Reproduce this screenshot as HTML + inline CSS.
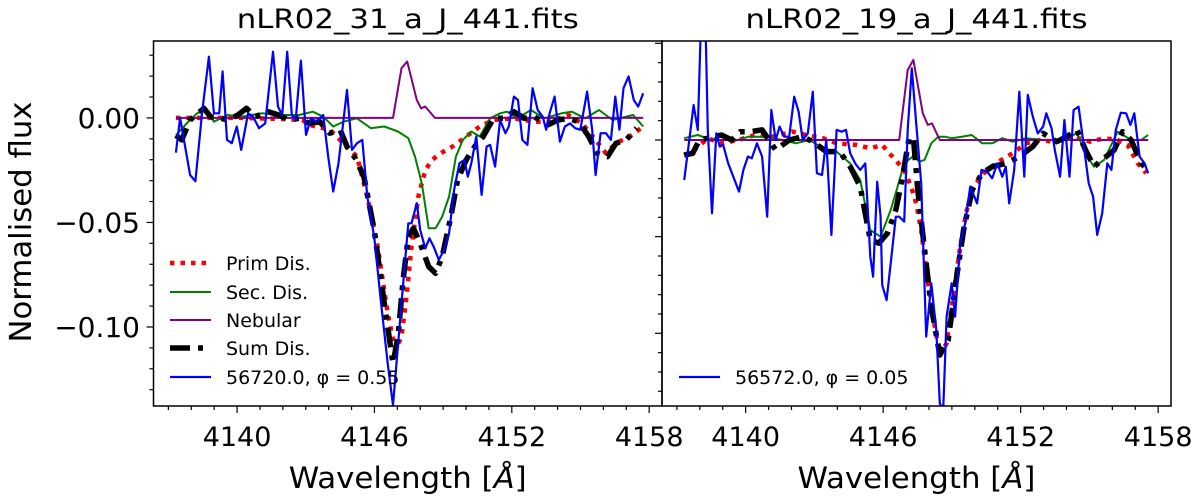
<!DOCTYPE html>
<html><head><meta charset="utf-8"><style>
html,body{margin:0;padding:0;background:#fff;}
svg{display:block;font-family:"DejaVu Sans","Liberation Sans",sans-serif;}
</style></head><body>
<svg id="chart" width="1200" height="500" viewBox="0 0 1200 500"></svg>
<script>
// ---------- data: left panel (nLR02_31_a_J_441) ----------
const xTicks = [4140, 4146, 4152, 4158];
const yTickLabels = ["0.00", "\u22120.05", "\u22120.10"];
const yTicks = [0, -0.05, -0.10];
const legendLabels = ["Prim Dis.", "Sec. Dis.", "Nebular", "Sum Dis.", "56720.0, \u03C6 = 0.55"];
const legendLabelRight = "56572.0, \u03C6 = 0.05";

const L_blueX = [4137.33,4137.51,4137.95,4138.18,4138.47,4138.77,4138.99,4139.22,4139.37,4139.56,4139.77,4139.99,4140.18,4140.48,4140.70,4140.96,4141.23,4141.57,4141.79,4141.97,4142.19,4142.39,4142.56,4142.79,4143.01,4143.23,4143.46,4143.76,4143.98,4144.20,4144.43,4144.80,4145.02,4145.24,4145.47,4145.69,4145.99,4146.29,4146.58,4146.81,4147.18,4147.48,4147.62,4147.85,4148.00,4148.22,4148.40,4148.59,4148.81,4149.04,4149.26,4149.48,4149.71,4149.93,4150.08,4150.23,4150.45,4150.68,4150.90,4151.05,4151.27,4151.49,4151.72,4151.87,4152.09,4152.27,4152.46,4152.68,4152.91,4153.13,4153.35,4153.50,4153.65,4153.87,4154.10,4154.32,4154.54,4154.77,4154.99,4155.29,4155.51,4155.66,4155.88,4156.11,4156.33,4156.52,4156.70,4156.88,4157.10,4157.33,4157.52,4157.74];
const L_blueY = [-0.0166,0.0000,-0.0273,-0.0303,0.0022,0.0293,0.0022,0.0022,0.0222,-0.0105,-0.0121,-0.0041,-0.0153,0.0022,0.0006,-0.0049,-0.0026,0.0317,0.0054,0.0014,0.0317,0.0014,-0.0010,0.0274,-0.0081,-0.0002,-0.0018,0.0014,-0.0185,-0.0352,-0.0217,0.0134,-0.0153,-0.0121,-0.0105,-0.0376,-0.0568,-0.0887,-0.1174,-0.1374,-0.0887,-0.0504,-0.0504,-0.0408,-0.0536,-0.0624,-0.0576,-0.0616,-0.0679,-0.0632,-0.0552,-0.0344,-0.0217,-0.0201,-0.0281,-0.0217,-0.0089,-0.0368,-0.0137,-0.0129,-0.0233,-0.0010,-0.0073,-0.0041,0.0102,0.0086,-0.0105,-0.0129,0.0142,0.0038,0.0006,-0.0057,0.0022,0.0102,-0.0113,-0.0041,-0.0026,-0.0049,-0.0057,0.0126,-0.0057,-0.0273,-0.0073,-0.0073,-0.0105,0.0102,-0.0057,0.0142,0.0198,0.0086,0.0054,0.0118];

const L_sumX = [4137.33,4137.58,4137.95,4138.55,4138.84,4139.29,4139.59,4140.03,4140.41,4140.78,4141.37,4141.82,4142.27,4142.71,4143.16,4143.61,4144.05,4144.50,4144.80,4145.17,4145.54,4145.99,4146.43,4146.81,4147.03,4147.25,4147.48,4147.70,4148.00,4148.37,4148.67,4148.96,4149.34,4149.63,4150.01,4150.38,4150.75,4151.20,4151.64,4152.09,4152.54,4152.98,4153.58,4154.02,4154.47,4154.92,4155.36,4155.73,4156.18,4156.55,4157.00,4157.45];
const L_sumY = [-0.0083,-0.0105,-0.0010,0.0046,0.0006,-0.0002,-0.0010,0.0014,0.0046,0.0006,0.0030,0.0014,-0.0010,-0.0002,-0.0026,-0.0018,-0.0073,-0.0057,-0.0137,-0.0193,-0.0281,-0.0536,-0.0887,-0.1174,-0.1046,-0.0775,-0.0568,-0.0528,-0.0600,-0.0711,-0.0743,-0.0663,-0.0472,-0.0297,-0.0201,-0.0137,-0.0089,-0.0002,-0.0002,0.0030,-0.0002,0.0006,-0.0033,-0.0010,-0.0002,-0.0018,-0.0089,-0.0169,-0.0185,-0.0121,-0.0105,-0.0049];

const L_primX = [4137.33,4138.70,4140.18,4141.97,4142.86,4143.16,4144.05,4144.65,4145.24,4145.69,4146.14,4146.58,4146.91,4147.18,4147.40,4147.62,4147.92,4148.22,4148.52,4148.89,4149.41,4150.01,4150.60,4151.20,4152.09,4152.98,4153.58,4154.47,4155.07,4155.66,4156.11,4156.55,4157.15,4157.74];
const L_primY = [0.0000,0.0000,0.0000,-0.0005,-0.0010,-0.0034,-0.0057,-0.0121,-0.0185,-0.0376,-0.0614,-0.0935,-0.1110,-0.1046,-0.0855,-0.0616,-0.0376,-0.0249,-0.0201,-0.0169,-0.0137,-0.0089,-0.0041,-0.0010,-0.0002,-0.0018,-0.0018,0.0014,-0.0026,-0.0105,-0.0169,-0.0121,-0.0089,-0.0041];

const L_secX = [4137.33,4137.80,4138.25,4138.70,4138.99,4139.59,4140.18,4141.08,4141.97,4142.71,4143.31,4143.76,4144.20,4144.65,4145.24,4145.84,4146.43,4147.03,4147.48,4147.77,4148.07,4148.37,4148.67,4148.96,4149.26,4149.56,4149.86,4150.23,4150.60,4151.05,4151.49,4151.79,4152.24,4152.83,4153.43,4154.17,4154.62,4155.21,4155.81,4156.40,4157.30,4157.74];
const L_secY = [-0.0083,-0.0026,0.0022,0.0038,-0.0018,0.0014,0.0006,0.0022,0.0014,0.0014,0.0030,0.0006,-0.0041,-0.0018,-0.0002,-0.0049,-0.0041,-0.0065,-0.0097,-0.0185,-0.0313,-0.0528,-0.0528,-0.0472,-0.0376,-0.0185,-0.0105,-0.0065,-0.0089,-0.0002,0.0022,0.0030,-0.0002,0.0038,-0.0002,0.0022,0.0030,-0.0002,0.0038,-0.0010,0.0014,-0.0041];

const L_nebX = [4137.33,4146.81,4147.18,4147.43,4147.85,4148.04,4148.22,4148.64,4157.74];
const L_nebY = [0,0,0.0238,0.0270,0.0086,0.0046,0.0054,0,0];

// ---------- data: right panel (nLR02_19_a_J_441) ----------
const R_blueX = [4137.32,4137.54,4137.73,4137.91,4138.06,4138.24,4138.35,4138.53,4138.72,4138.87,4139.02,4139.24,4139.46,4139.71,4139.90,4140.10,4140.27,4140.49,4140.72,4140.94,4141.12,4141.31,4141.48,4141.68,4141.90,4142.12,4142.31,4142.49,4142.71,4142.93,4143.11,4143.33,4143.52,4143.74,4143.97,4144.19,4144.38,4144.56,4144.78,4145.00,4145.22,4145.44,4145.56,4145.74,4145.89,4145.96,4146.15,4146.33,4146.55,4146.70,4146.92,4147.07,4147.25,4147.44,4147.66,4147.88,4148.10,4148.32,4148.47,4148.62,4148.77,4148.99,4149.14,4149.36,4149.58,4149.80,4150.10,4150.29,4150.54,4150.76,4150.98,4151.20,4151.35,4151.50,4151.72,4151.94,4152.16,4152.31,4152.53,4152.75,4152.98,4153.12,4153.35,4153.49,4153.72,4153.91,4154.13,4154.31,4154.53,4154.75,4154.97,4155.16,4155.34,4155.56,4155.78,4155.96,4156.15,4156.37,4156.60,4156.79,4156.96,4157.19,4157.41,4157.56];
const R_blueY = [-0.0207,0.0000,0.0181,0.0052,0.0650,0.0650,0.0052,-0.0379,0.0034,-0.0034,-0.0026,-0.0121,-0.0190,-0.0267,-0.0155,-0.0086,-0.0095,-0.0017,-0.0086,-0.0397,0.0155,0.0000,0.0069,0.0017,0.0017,0.0224,0.0147,0.0000,0.0034,0.0250,-0.0172,-0.0181,0.0000,-0.0491,0.0052,0.0043,0.0052,-0.0069,-0.0121,-0.0155,-0.0121,-0.0603,-0.0707,-0.0216,-0.0397,-0.0750,-0.0828,-0.0638,-0.0397,-0.0397,-0.0422,0.0052,0.0371,0.0086,-0.0224,-0.1017,-0.0741,-0.0983,-0.1362,-0.1397,-0.0914,-0.0741,-0.0914,-0.0534,-0.0431,-0.0241,-0.0328,-0.0155,-0.0164,-0.0198,-0.0121,-0.0190,-0.0138,-0.0328,-0.0155,0.0250,-0.0190,0.0233,0.0121,0.0034,0.0069,0.0138,0.0060,-0.0052,-0.0190,0.0103,-0.0190,0.0155,0.0172,-0.0026,-0.0224,-0.0293,-0.0491,-0.0379,-0.0121,-0.0155,0.0052,0.0141,0.0138,0.0078,0.0138,-0.0086,-0.0121,-0.0172];

const R_sumX = [4137.32,4137.69,4137.98,4138.35,4138.94,4139.39,4139.76,4140.20,4140.72,4141.31,4141.90,4142.49,4142.93,4143.52,4144.11,4144.56,4145.00,4145.44,4145.81,4146.18,4146.55,4146.85,4147.14,4147.33,4147.51,4147.81,4148.10,4148.47,4148.84,4149.21,4149.51,4149.88,4150.32,4150.76,4151.35,4151.94,4152.53,4152.98,4153.57,4154.01,4154.46,4154.83,4155.20,4155.64,4156.08,4156.45,4156.82,4157.26,4157.56];
const R_sumY = [-0.0078,-0.0069,0,0.0009,0.0026,0,0.0043,0.0043,0.0052,-0.0052,0,0.0017,-0.0009,-0.0060,-0.0060,-0.0138,-0.0241,-0.0517,-0.0534,-0.0483,-0.0362,-0.0190,0.0017,0,-0.0259,-0.0569,-0.0862,-0.1112,-0.1034,-0.0707,-0.0466,-0.0259,-0.0172,-0.0138,-0.0121,-0.0086,-0.0034,0.0034,-0.0009,0.0017,0.0052,-0.0052,-0.0138,-0.0095,-0.0052,0.0043,0,-0.0121,-0.0155];

const R_primX = [4137.32,4137.76,4138.35,4138.94,4139.68,4140.42,4141.16,4142.05,4142.64,4143.38,4143.97,4144.85,4145.44,4145.96,4146.40,4146.92,4147.22,4147.44,4147.66,4147.88,4148.18,4148.47,4148.77,4149.06,4149.36,4149.65,4149.95,4150.39,4150.91,4151.65,4152.24,4152.83,4153.42,4154.31,4155.04,4155.64,4156.23,4156.67,4157.11,4157.48];
const R_primY = [-0.0078,-0.0052,0.0009,-0.0017,0,0.0026,0.0017,0.0043,0.0026,0.0009,-0.0017,-0.0026,-0.0043,-0.0026,-0.0086,-0.0155,-0.0241,-0.0328,-0.0466,-0.0672,-0.0914,-0.1112,-0.1052,-0.0810,-0.0552,-0.0362,-0.0241,-0.0172,-0.0121,-0.0069,-0.0017,0,-0.0009,0.0017,-0.0009,0.0009,0,-0.0026,-0.0121,-0.0172];

const R_secX = [4137.32,4137.91,4138.50,4138.94,4139.39,4140.13,4140.86,4141.60,4142.19,4142.78,4143.38,4143.97,4144.56,4145.00,4145.44,4145.89,4146.33,4146.63,4146.92,4147.29,4147.59,4147.81,4148.10,4148.40,4148.69,4148.99,4149.43,4149.87,4150.32,4150.76,4151.20,4151.65,4152.24,4152.98,4153.72,4154.46,4154.90,4155.20,4155.64,4156.23,4156.82,4157.26,4157.56];
const R_secY = [0.0009,0.0026,0,0.0026,-0.0009,0.0017,0.0017,0,-0.0017,0,-0.0043,-0.0060,-0.0121,-0.0207,-0.0466,-0.0500,-0.0362,-0.0241,-0.0121,-0.0086,-0.0112,-0.0103,-0.0017,0.0017,0.0017,0.0009,0.0017,0.0026,-0.0017,-0.0017,0.0009,-0.0009,0.0009,0,0,0.0034,-0.0086,-0.0138,-0.0103,0.0043,0,0,0.0026];

const R_nebX = [4137.32,4146.70,4147.07,4147.32,4147.73,4147.95,4148.13,4148.47,4157.56];
const R_nebY = [0,0,0.0362,0.0414,0.0138,0.0078,0.0086,0,0];

// ---------- rendering ----------
const NS = "http://www.w3.org/2000/svg";
const svg = document.getElementById("chart");
function mk(tag, attrs, parent) {
  const e = document.createElementNS(NS, tag);
  for (const k in attrs) e.setAttribute(k, attrs[k]);
  (parent || svg).appendChild(e);
  return e;
}
const XMIN = 4136.35, XMAX = 4158.56, TOP = 41, BOT = 406;

function makePanel(opts) {
  const g = mk("g", {});
  
  
  const x = v => opts.x0 + (v - XMIN) / (XMAX - XMIN) * (opts.x1 - opts.x0);
  const y = v => TOP + (opts.ymax - v) / (opts.ymax - opts.ymin) * (BOT - TOP);
  const cid = "clip-" + opts.name;
  const defs = mk("defs", {}, g);
  const cp = mk("clipPath", {id: cid}, defs);
  mk("rect", {x: opts.x0, y: TOP, width: opts.x1 - opts.x0, height: BOT - TOP}, cp);
  const plot = mk("g", {"clip-path": "url(#" + cid + ")"}, g);
  
  
  function line(xs, ys, style, name) {
    const d = xs.map((v, i) => (i ? "L" : "M") + x(v).toFixed(1) + "," + y(ys[i]).toFixed(1)).join("");
    const p = mk("path", Object.assign({d: d, fill: "none", "stroke-linejoin": "round"}, style), plot);
    
    
  }
  line(opts.primX, opts.primY, {stroke: "#ff0000", "stroke-width": 4.5, "stroke-dasharray": "4.5,6"}, "prim-dis-line");
  line(opts.secX, opts.secY, {stroke: "#008000", "stroke-width": 2}, "sec-dis-line");
  line(opts.nebX, opts.nebY, {stroke: "#800080", "stroke-width": 2}, "nebular-line");
  line(opts.sumX, opts.sumY, {stroke: "#000000", "stroke-width": 5.5, "stroke-dasharray": "20,8,5,8"}, "sum-dis-line");
  line(opts.blueX, opts.blueY, {stroke: "#0000ff", "stroke-width": 2.2}, "observed-spectrum-line");
  const fr = mk("rect", {x: opts.x0, y: TOP, width: opts.x1 - opts.x0, height: BOT - TOP, fill: "none", stroke: "#000", "stroke-width": 1.5}, g);
  
  
  for (let v = 4137; v <= 4158; v++) {
    const major = xTicks.indexOf(v) >= 0;
    const t = mk("line", {x1: x(v), x2: x(v), y1: BOT, y2: BOT + (major ? 7 : 4), stroke: "#000", "stroke-width": 1.2}, g);
    
    
  }
  xTicks.forEach(v => {
    const t = mk("text", {x: x(v), y: 446, "text-anchor": "middle", "font-size": 27}, g);
    t.textContent = v;
    
    
  });
  for (let k = -13; k <= 5; k++) {
    const v = k / 100;
    if (v < opts.ymin || v > opts.ymax) continue;
    const major = k % 5 === 0;
    const t = mk("line", {x1: opts.x0, x2: opts.x0 - (major ? 7 : 4), y1: y(v), y2: y(v), stroke: "#000", "stroke-width": 1.2}, g);
    
    
  }
  if (opts.labels) {
    yTicks.forEach((v, i) => {
      const t = mk("text", {x: 140, y: y(v) + 10, "text-anchor": "end", "font-size": 28}, g);
      t.textContent = yTickLabels[i];
      
      
    });
  }
  const cx = (opts.x0 + opts.x1) / 2;
  const tt = mk("text", {x: cx, y: 28, "text-anchor": "middle", "font-size": 27, textLength: 342, lengthAdjust: "spacingAndGlyphs"}, g);
  tt.textContent = opts.title;
  
  
  const xl = mk("text", {x: cx, y: 488, "text-anchor": "middle", "font-size": 29, textLength: 238, lengthAdjust: "spacingAndGlyphs"}, g);
  xl.innerHTML = 'Wavelength [<tspan font-style="italic">Å</tspan>]';
  
  
  return {x, y, g};
}

const left = makePanel({name: "left-panel", x0: 153.5, x1: 662, ymax: 0.0368, ymin: -0.1378, labels: true,
  title: "nLR02_31_a_J_441.fits",
  primX: L_primX, primY: L_primY, secX: L_secX, secY: L_secY, nebX: L_nebX, nebY: L_nebY,
  sumX: L_sumX, sumY: L_sumY, blueX: L_blueX, blueY: L_blueY});
const right = makePanel({name: "right-panel", x0: 662, x1: 1171, ymax: 0.0512, ymin: -0.1376, labels: false,
  title: "nLR02_19_a_J_441.fits",
  primX: R_primX, primY: R_primY, secX: R_secX, secY: R_secY, nebX: R_nebX, nebY: R_nebY,
  sumX: R_sumX, sumY: R_sumY, blueX: R_blueX, blueY: R_blueY});

const yl = mk("text", {x: 0, y: 0, "text-anchor": "middle", "font-size": 30, textLength: 241, lengthAdjust: "spacingAndGlyphs", transform: "translate(31,222) rotate(-90)"});
yl.textContent = "Normalised flux";



const legStyles = [
  {stroke: "#ff0000", "stroke-width": 4.5, "stroke-dasharray": "4.5,6"},
  {stroke: "#008000", "stroke-width": 2},
  {stroke: "#800080", "stroke-width": 2},
  {stroke: "#000000", "stroke-width": 5.5, "stroke-dasharray": "20,8,5,8"},
  {stroke: "#0000ff", "stroke-width": 2.2}
];
const legRows = [263, 292, 320, 348, 377];
const legL = mk("g", {});


legendLabels.forEach((lab, i) => {
  const ln = mk("line", Object.assign({x1: 170, x2: 211, y1: legRows[i], y2: legRows[i]}, legStyles[i]), legL);
  
  
  const t = mk("text", {x: 226, y: legRows[i] + 7, "font-size": 19}, legL);
  t.textContent = lab;
  
  
});
const legR = mk("g", {});


const lnR = mk("line", Object.assign({x1: 679, x2: 720, y1: 377, y2: 377}, legStyles[4]), legR);


const tR = mk("text", {x: 735, y: 384, "font-size": 19}, legR);
tR.textContent = legendLabelRight;


</script>
</body></html>
